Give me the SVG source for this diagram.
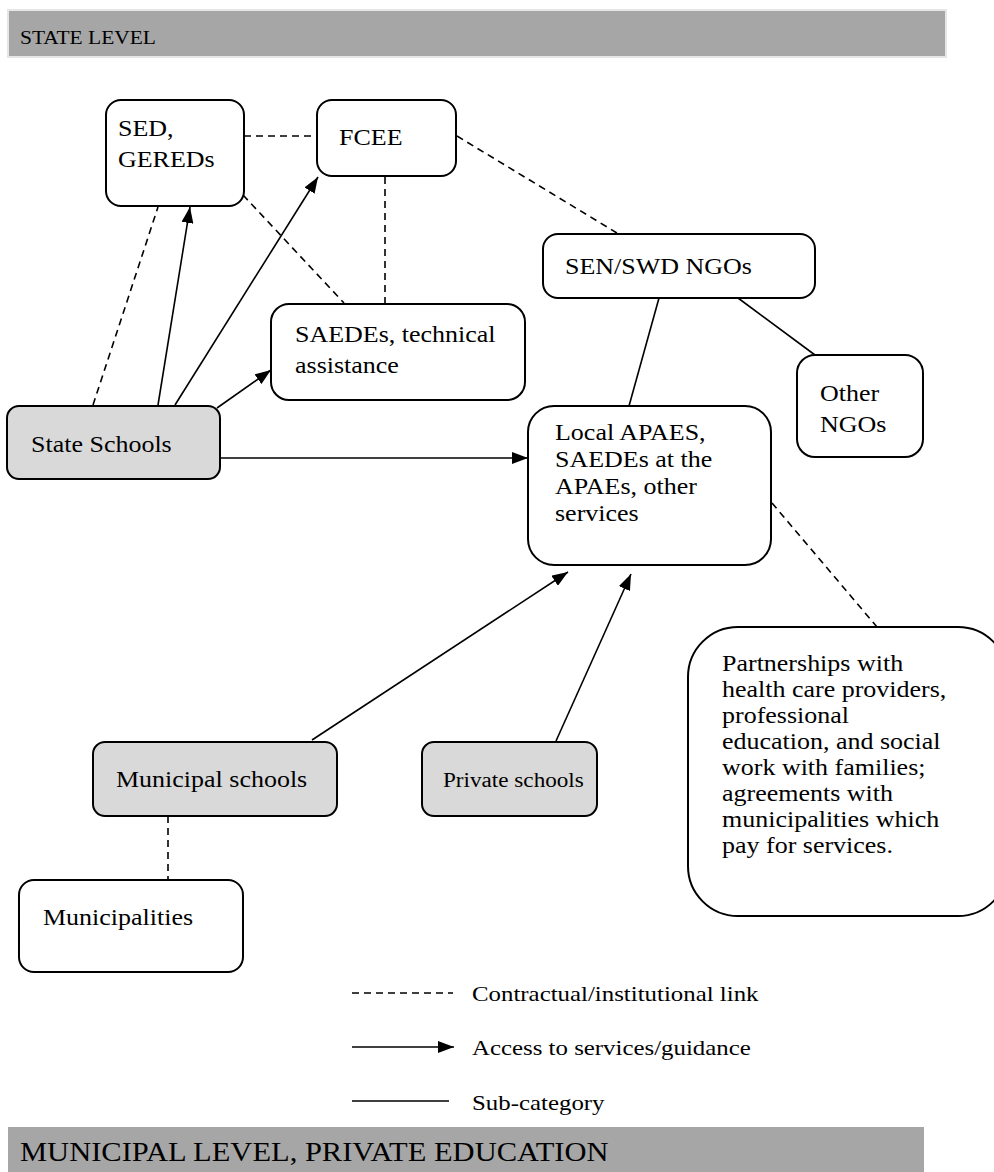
<svg xmlns="http://www.w3.org/2000/svg" width="994" height="1172" viewBox="0 0 994 1172">
<defs>
<marker id="ah" viewBox="0 0 16 12" refX="16" refY="6" markerWidth="16" markerHeight="12" markerUnits="userSpaceOnUse" orient="auto">
<path d="M0,0 L16,6 L0,12 Z" fill="#000"/>
</marker>
<style>
text{font-family:"Liberation Serif","Times New Roman",serif;font-size:23px;fill:#000}
.leg{font-size:22px}
.box{fill:#fff;stroke:#000;stroke-width:2}
.grey{fill:#d9d9d9;stroke:#000;stroke-width:2}
.bar{fill:#a6a6a6}
.dash{stroke:#000;stroke-width:1.6;stroke-dasharray:7 5;fill:none}
.sol{stroke:#000;stroke-width:1.6;fill:none}
.arr{stroke:#000;stroke-width:1.6;fill:none;marker-end:url(#ah)}
</style>
</defs>
<rect width="994" height="1172" fill="#fff"/>
<g id="header-state">
<rect class="bar" x="8" y="10" width="938" height="47" stroke="#e6e6e6" stroke-width="2"/>
<g transform="matrix(1.13 0 0 1 -2.6 0)"><text x="20" y="44" style="font-size:19px">STATE LEVEL</text></g>
</g>
<g id="header-municipal">
<rect class="bar" x="8" y="1127" width="916" height="50"/>
<g transform="matrix(1.13 0 0 1 -2.6 0)"><text x="20" y="1161" style="font-size:27px">MUNICIPAL LEVEL, PRIVATE EDUCATION</text></g>
</g>
<g id="connectors">
<line class="dash" x1="244" y1="136" x2="317" y2="136"/>
<line class="dash" x1="457" y1="136" x2="617" y2="233"/>
<line class="dash" x1="385" y1="177" x2="385" y2="303"/>
<line class="dash" x1="243" y1="195" x2="344" y2="303"/>
<line class="dash" x1="93" y1="405" x2="158" y2="207"/>
<line class="arr" x1="158" y1="405" x2="190" y2="207"/>
<line class="arr" x1="175" y1="405" x2="318" y2="177"/>
<line class="arr" x1="217" y1="408" x2="271" y2="370"/>
<line class="arr" x1="220" y1="458" x2="528" y2="458"/>
<line class="arr" x1="312" y1="740" x2="568" y2="572"/>
<line class="arr" x1="556" y1="741" x2="631" y2="574"/>
<line class="sol" x1="659" y1="298" x2="629" y2="406"/>
<line class="sol" x1="738" y1="298" x2="815" y2="355"/>
<line class="dash" x1="772" y1="503" x2="877" y2="627"/>
<line class="dash" x1="168" y1="816" x2="168" y2="880"/>
</g>
<g id="node-sed">
<rect class="box" x="106" y="100" width="138" height="106" rx="15"/>
<g transform="matrix(1.13 0 0 1 -15.34 0)">
<text x="118" y="136">SED,</text>
<text x="118" y="167">GEREDs</text>
</g>
</g>
<g id="node-fcee">
<rect class="box" x="317" y="100" width="139" height="76" rx="15"/>
<g transform="matrix(1.13 0 0 1 -44.07 0)"><text x="339" y="145">FCEE</text></g>
</g>
<g id="node-sen">
<rect class="box" x="543" y="234" width="272" height="64" rx="15"/>
<g transform="matrix(1.13 0 0 1 -73.45 0)"><text x="565" y="274">SEN/SWD NGOs</text></g>
</g>
<g id="node-saedes">
<rect class="box" x="271" y="304" width="254" height="96" rx="18"/>
<g transform="matrix(1.13 0 0 1 -38.35 0)">
<text x="295" y="342">SAEDEs, technical</text>
<text x="295" y="373">assistance</text>
</g>
</g>
<g id="node-other">
<rect class="box" x="797" y="355" width="126" height="102" rx="18"/>
<g transform="matrix(1.13 0 0 1 -106.6 0)">
<text x="820" y="401">Other</text>
<text x="820" y="432">NGOs</text>
</g>
</g>
<g id="node-state">
<rect class="grey" x="7" y="406" width="213" height="73" rx="12"/>
<g transform="matrix(1.13 0 0 1 -4.03 0)"><text x="31" y="452">State Schools</text></g>
</g>
<g id="node-local">
<rect class="box" x="528" y="406" width="243" height="159" rx="26"/>
<g transform="matrix(1.13 0 0 1 -72.15 0)">
<text x="555" y="440">Local APAES,</text>
<text x="555" y="467">SAEDEs at the</text>
<text x="555" y="494">APAEs, other</text>
<text x="555" y="521">services</text>
</g>
</g>
<g id="node-partnerships">
<rect class="box" x="688" y="627" width="320" height="289" rx="50"/>
<g transform="matrix(1.13 0 0 1 -93.86 0)">
<text x="722" y="671">Partnerships with</text>
<text x="722" y="697">health care providers,</text>
<text x="722" y="723">professional</text>
<text x="722" y="749">education, and social</text>
<text x="722" y="775">work with families;</text>
<text x="722" y="801">agreements with</text>
<text x="722" y="827">municipalities which</text>
<text x="722" y="853">pay for services.</text>
</g>
</g>
<g id="node-municipal">
<rect class="grey" x="93" y="742" width="244" height="74" rx="12"/>
<g transform="matrix(1.13 0 0 1 -15.08 0)"><text x="116" y="787">Municipal schools</text></g>
</g>
<g id="node-private">
<rect class="grey" x="422" y="742" width="175" height="74" rx="12"/>
<g transform="matrix(1.13 0 0 1 -57.59 0)"><text x="443" y="787" style="font-size:20.5px">Private schools</text></g>
</g>
<g id="node-municipalities">
<rect class="box" x="19" y="880" width="224" height="92" rx="15"/>
<g transform="matrix(1.13 0 0 1 -5.59 0)"><text x="43" y="925">Municipalities</text></g>
</g>
<g id="legend">
<line class="dash" x1="352" y1="993" x2="453" y2="993"/>
<line class="arr" x1="352" y1="1047" x2="454" y2="1047"/>
<line class="sol" x1="352" y1="1101" x2="449" y2="1101"/>
<g transform="matrix(1.13 0 0 1 -61.36 0)">
<text class="leg" x="472" y="1001">Contractual/institutional link</text>
<text class="leg" x="472" y="1055">Access to services/guidance</text>
<text class="leg" x="472" y="1110">Sub-category</text>
</g>
</g>
</svg>
